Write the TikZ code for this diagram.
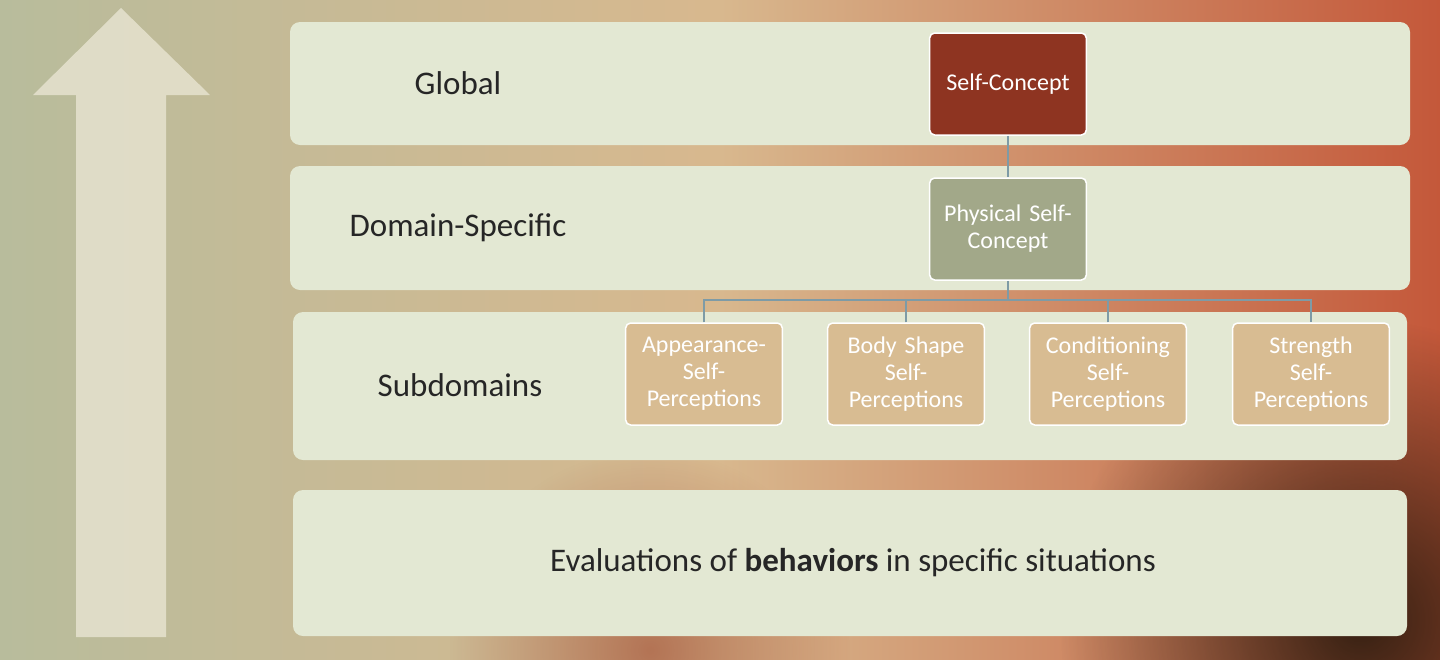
\documentclass[tikz,border=0pt]{standalone}
\usepackage{fontspec}
\setmainfont{Carlito}
\usetikzlibrary{fadings}
\tikzfading[name=softdisc, inner color=transparent!0, outer color=transparent!100]
\definecolor{band}{HTML}{E3E8D3}
\definecolor{scbox}{HTML}{8E3421}
\definecolor{pbox}{HTML}{A2A889}
\definecolor{sbox}{HTML}{D8BC92}
\definecolor{link}{HTML}{7E9BA6}
\definecolor{arrowc}{HTML}{E6E2CF}
\definecolor{bgl}{HTML}{B8BC9C}
\definecolor{bgm}{HTML}{D8B88E}
\definecolor{bgr}{HTML}{C4583A}
\begin{document}
\begin{tikzpicture}[x=1pt,y=-1pt,
  bandbox/.style={fill=band,rounded corners=10pt,draw=none},
  lvl/.style={font=\fontsize{33}{36}\selectfont,text=black!85},
  hbox/.style={draw=white,line width=1.5pt,rounded corners=5pt,text=white,align=center,minimum width=154pt,minimum height=102pt,text width=150pt,font=\fontsize{24}{27}\selectfont},
  conn/.style={draw=link,line width=2pt}]
\useasboundingbox (0,0) rectangle (1440,659);
\shade[left color=bgl, right color=bgm] (0,0) rectangle (721,659);
\shade[left color=bgm, right color=bgr] (720,0) rectangle (1440,659);
\fill[black!80!brown,opacity=0.9,path fading=softdisc] (1360,620) circle (300);
\fill[bgr!80!black,opacity=0.6,path fading=softdisc] (650,650) circle (200);
\fill[arrowc,opacity=0.85] (76,637) -- (76,95) -- (33,95) -- (121,8) -- (210,95) -- (166,95) -- (166,637) -- cycle;
\fill[bandbox] (290,22) rectangle (1410,145);
\fill[bandbox] (290,166) rectangle (1410,290);
\fill[bandbox] (293,312) rectangle (1407,460);
\fill[bandbox] (293,490) rectangle (1407,636);
\node[lvl] (g) at (458,83) {Global};
\node[lvl] (d) at (458,228) {Domain-Specific};
\node[lvl] (s) at (460,385) {Subdomains};
\node[lvl] (e) at (853,563) {Evaluations of \textbf{behaviors} in specific situations};
\node[hbox,fill=scbox] (sc) at (1008,84) {Self-Concept};
\node[hbox,fill=pbox] (pc) at (1008,229) {Physical Self-\\Concept};
\node[hbox,fill=sbox] (a) at (704,374) {Appearance-\\Self-\\Perceptions};
\node[hbox,fill=sbox] (b) at (906,374) {Body Shape\\Self-\\Perceptions};
\node[hbox,fill=sbox] (c) at (1108,374) {Conditioning\\Self-\\Perceptions};
\node[hbox,fill=sbox] (st) at (1311,374) {Strength\\Self-\\Perceptions};
\draw[conn] (sc.south) -- (pc.north);
\coordinate (j) at (1008,300);
\draw[conn] (pc.south) -- (j);
\draw[conn] (a.north) |- (j) -| (st.north);
\draw[conn] (b.north) -- (b.north |- j);
\draw[conn] (c.north) -- (c.north |- j);
\end{tikzpicture}
\end{document}
